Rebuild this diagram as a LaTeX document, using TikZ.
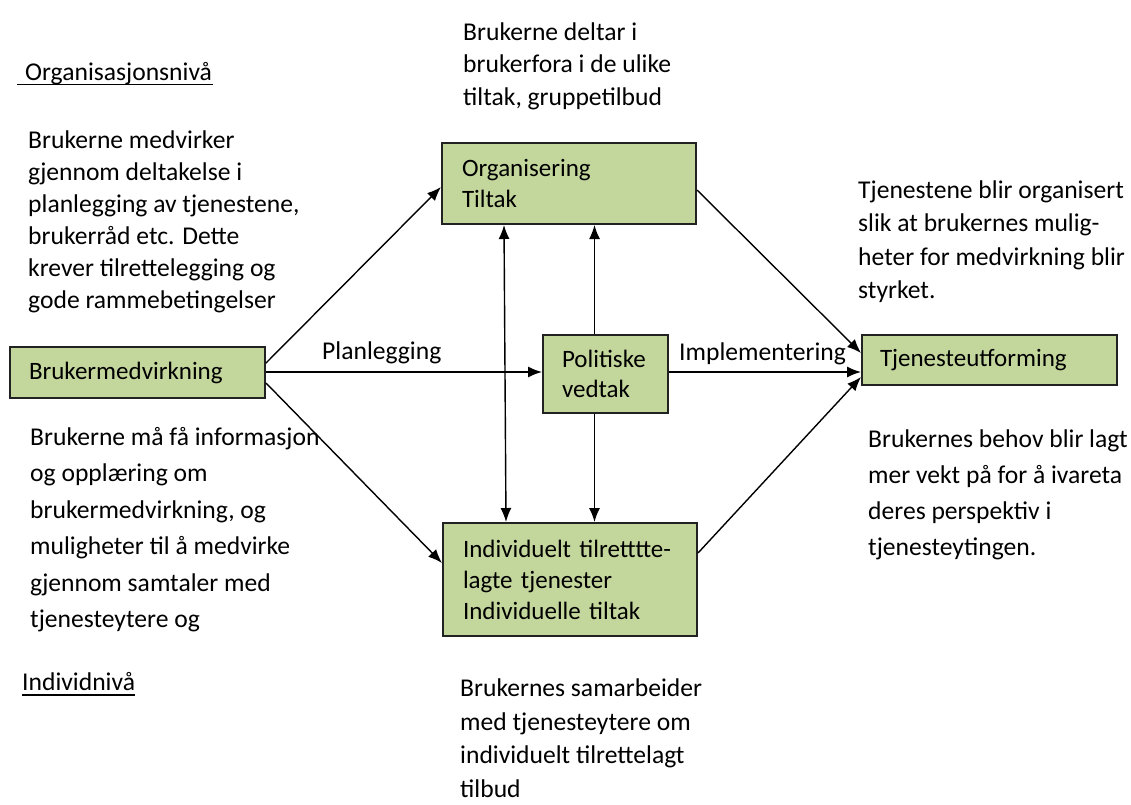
\documentclass[tikz,border=0pt]{standalone}
\usepackage{fontspec}
\setmainfont{Carlito}
\usetikzlibrary{arrows.meta,calc}
\definecolor{boxgreen}{HTML}{C3D69B}
\definecolor{boxedge}{HTML}{222222}
\begin{document}
\begin{tikzpicture}[x=1pt,y=-1pt,
  every node/.style={text=black},
  box/.style={draw=boxedge, line width=2pt, fill=boxgreen, inner xsep=0pt, inner ysep=0pt,
              align=left, font=\fontsize{25}{31}\selectfont},
  conn/.style={line width=1.4pt, -{Latex[length=14pt,width=11pt]}},
  both/.style={line width=1.4pt, {Latex[length=14pt,width=11pt]}-{Latex[length=14pt,width=11pt]}},
  txt/.style={anchor=base west, align=left, inner sep=0pt},
  rule/.style={line width=1.4pt},
]
\useasboundingbox (0,0) rectangle (1131,804);

% boxes
\node[box, minimum width=255pt, minimum height=51pt, text width=217pt] (bm) at (137.5,372.5) {Brukermedvirkning};
\node[box, minimum width=254pt, minimum height=81pt, text width=214pt] (org) at (569,183.5) {Organisering\\Tiltak};
\node[box, minimum width=125pt, minimum height=78pt, text width=87pt, font=\fontsize{25}{30}\selectfont] (pol) at (605.5,374) {Politiske\\vedtak};
\node[box, minimum width=254pt, minimum height=113pt, text width=214pt] (ind) at (570,579.5) {Individuelt tilretttte-\\lagte tjenester\\Individuelle tiltak};
\node[box, minimum width=255pt, minimum height=50pt, text width=219pt] (tj) at (989.5,360) {Tjenesteutforming};

% level headings
\node[txt, font=\fontsize{25.6}{32}\selectfont] (orgniva) at (25,80) {Organisasjonsnivå};
\draw[rule] ([xshift=-8pt,yshift=-4.5pt]orgniva.base west) -- ([xshift=1pt,yshift=-4.5pt]orgniva.base east);
\node[txt, font=\fontsize{25.6}{32}\selectfont] (indniva) at (22,690) {Individnivå};
\draw[rule] ([yshift=-5pt]indniva.base west) -- ([yshift=-5pt]indniva.base east);

% descriptive texts (anchored at the baseline of their last line)
\node[txt, font=\fontsize{25.6}{32}\selectfont] (t1) at (28,308) {Brukerne medvirker\\gjennom deltakelse i\\planlegging av tjenestene,\\brukerråd etc. Dette\\krever tilrettelegging og\\gode rammebetingelser};
\node[txt, font=\fontsize{25.6}{32.5}\selectfont] (t2) at (463,105) {Brukerne deltar i\\brukerfora i de ulike\\tiltak, gruppetilbud};
\node[txt, font=\fontsize{25.6}{33.5}\selectfont] (t3) at (858,298.5) {Tjenestene blir organisert\\slik at brukernes mulig-\\heter for medvirkning blir\\styrket.};
\node[txt, font=\fontsize{25.6}{36.5}\selectfont] (t4) at (30,627.5) {Brukerne må få informasjon\\og opplæring om\\brukermedvirkning, og\\muligheter til å medvirke\\gjennom samtaler med\\tjenesteytere og};
\node[txt, font=\fontsize{25.6}{35.7}\selectfont] (t5) at (868,555) {Brukernes behov blir lagt\\mer vekt på for å ivareta\\deres perspektiv i\\tjenesteytingen.};
\node[txt, font=\fontsize{25.6}{33.5}\selectfont] (t6) at (460,797) {Brukernes samarbeider\\med tjenesteytere om\\individuelt tilrettelagt\\tilbud};

% connector labels
\node[txt, font=\fontsize{25.6}{30}\selectfont] (lplan) at (322,359) {Planlegging};
\node[txt, font=\fontsize{25.6}{30}\selectfont] (limpl) at (679,360) {Implementering};

% connectors
\draw[conn] ([yshift=9.5pt]bm.east) -- ([yshift=-3.5pt]org.west);
\draw[conn] ([yshift=0.5pt]bm.east) -- ([yshift=0.5pt]bm.east -| pol.west);
\draw[conn] ([yshift=-10.5pt]bm.east) -- ([yshift=16.5pt]ind.west);
\draw[conn] ([yshift=-6.5pt]org.east) -- ([yshift=7pt]tj.west);
\draw[conn] ([yshift=2pt]pol.east) -- ([yshift=2pt]pol.east -| tj.west);
\draw[conn] ([yshift=26.5pt]ind.east) -- ([yshift=-17pt]tj.west);
\draw[both] ([xshift=-65pt]org.south) -- ([xshift=-64pt]ind.north);
\draw[conn] ([xshift=-11pt]pol.north) -- ([xshift=-11pt]pol.north |- org.south);
\draw[conn] ([xshift=-11pt]pol.south) -- ([xshift=-11pt]pol.south |- ind.north);
\end{tikzpicture}
\end{document}
